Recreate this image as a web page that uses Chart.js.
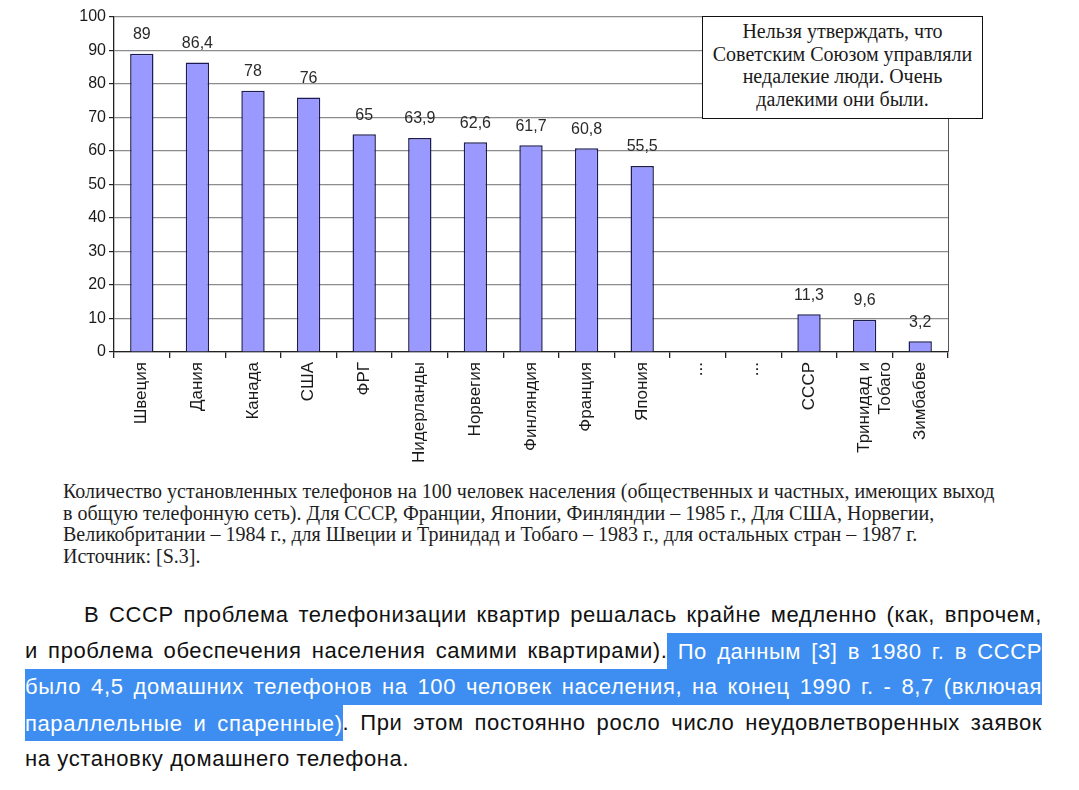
<!DOCTYPE html>
<html>
<head>
<meta charset="utf-8">
<script src="https://cdn.jsdelivr.net/npm/chart.js@4"></script>
<style>
  html,body{margin:0;padding:0;background:#fff;}
  body{width:1079px;height:790px;position:relative;overflow:hidden;}
  #wrap{position:absolute;left:0;top:0;width:1079px;height:470px;}
  #note{position:absolute;left:702px;top:16px;width:279px;height:98px;border:1.5px solid #111;background:#fff;
    font-family:"Liberation Serif","Times New Roman",serif;font-size:20px;line-height:22.5px;color:#1a1a1a;text-align:center;
    padding-top:3px;box-sizing:content-box;}
  #caption{position:absolute;left:63px;top:481px;font-family:"Liberation Serif","Times New Roman",serif;font-size:20px;
    line-height:21.7px;color:#1e1e1e;white-space:nowrap;}
  #para{position:absolute;left:25px;top:597px;width:1017px;font-family:"Liberation Sans",Arial,sans-serif;font-size:22px;letter-spacing:0.6px;color:#111;}
  #para .ln{height:36px;line-height:36px;white-space:nowrap;text-align:justify;text-align-last:justify;}
  #para .ln.last{text-align-last:left;}
  #para .hl{background:#3d8ef0;color:#fff;padding:5.5px 0;}
  #para .ln.full{background:#3d8ef0;color:#fff;}
</style>
</head>
<body>
<div id="wrap"><canvas id="c"></canvas></div>
<div id="note">Нельзя утверждать, что<br>Советским Союзом управляли<br>недалекие люди. Очень<br>далекими они были.</div>
<div id="caption">Количество установленных телефонов на 100 человек населения (общественных и частных, имеющих выход<br>в общую телефонную сеть). Для СССР, Франции, Японии, Финляндии – 1985 г., Для США,  Норвегии,<br>Великобритании – 1984 г., для Швеции и Тринидад и Тобаго – 1983 г., для остальных стран – 1987 г.<br>Источник: [S.3].</div>
<div id="para">
  <div class="ln" style="padding-left:59px">В СССР проблема телефонизации квартир решалась крайне медленно (как, впрочем,</div>
  <div class="ln">и проблема обеспечения населения самими квартирами).<span class="hl"> По данным [3] в 1980 г. в СССР</span></div>
  <div class="ln full">было 4,5 домашних телефонов на 100 человек населения, на конец 1990 г. - 8,7 (включая</div>
  <div class="ln"><span class="hl">параллельные и спаренные)</span>. При этом постоянно росло число неудовлетворенных заявок</div>
  <div class="ln last">на установку домашнего телефона.</div>
</div>
<script>
const categories = ['Швеция','Дания','Канада','США','ФРГ','Нидерланды','Норвегия','Финляндия','Франция','Япония','...','...','СССР',['Тринидад и','Тобаго'],'Зимбабве'];
const phonesPer100 = [89, 86.4, 78, 76, 65, 63.9, 62.6, 61.7, 60.8, 55.5, null, null, 11.3, 9.6, 3.2];
const yTicks = [0,10,20,30,40,50,60,70,80,90,100];

const valueLabels = {
  id:'valueLabels',
  afterDatasetsDraw(chart){
    const ctx = chart.ctx;
    const meta = chart.getDatasetMeta(0);
    ctx.save();
    ctx.font = '16px "Liberation Sans", Arial, sans-serif';
    ctx.fillStyle = '#2a2a2a';
    ctx.textAlign = 'center';
    ctx.textBaseline = 'bottom';
    meta.data.forEach((bar,i)=>{
      const v = phonesPer100[i];
      if(v==null) return;
      ctx.fillText(String(v).replace('.',','), bar.x, bar.y - 11);
    });
    ctx.restore();
  }
};
const frame = {
  id:'frame',
  beforeDatasetsDraw(chart){
    const {ctx, chartArea:a} = chart;
    ctx.save();
    ctx.strokeStyle = '#555';
    ctx.lineWidth = 1;
    ctx.beginPath();
    ctx.moveTo(Math.round(a.right)+0.5, a.top);
    ctx.lineTo(Math.round(a.right)+0.5, a.bottom);
    ctx.stroke();
    ctx.restore();
  }
};

new Chart(document.getElementById('c'), {
  type:'bar',
  data:{labels:categories, datasets:[{data:phonesPer100, backgroundColor:'#9999ff', borderColor:'#1c1c50', borderWidth:1.5,
    categoryPercentage:1, barPercentage:0.42}]},
  options:{
    responsive:true, maintainAspectRatio:false, animation:false,
    layout:{padding:{left:0, right:131, top:17, bottom:0}},
    plugins:{legend:{display:false}, tooltip:{enabled:false}},
    scales:{
      x:{
        grid:{offset:true, drawOnChartArea:false, color:'#222', tickLength:6, lineWidth:1.3},
        border:{color:'#222', width:1.3},
        ticks:{minRotation:90, maxRotation:90, autoSkip:false, padding:4, color:'#1a1a1a',
          font:{family:'"Liberation Sans", Arial, sans-serif', size:17}},
        afterFit(s){ s.height = 118; }
      },
      y:{
        min:0, max:100,
        afterBuildTicks(s){ s.ticks = yTicks.map(v=>({value:v})); },
        grid:{color:'#8c8c8c', lineWidth:1.2, tickLength:5, tickColor:'#222'},
        border:{color:'#222', width:1.3},
        ticks:{color:'#1a1a1a', padding:3, font:{family:'"Liberation Sans", Arial, sans-serif', size:16}},
        afterFit(s){ s.width = 114; }
      }
    }
  },
  plugins:[valueLabels, frame]
});
</script>
</body>
</html>
